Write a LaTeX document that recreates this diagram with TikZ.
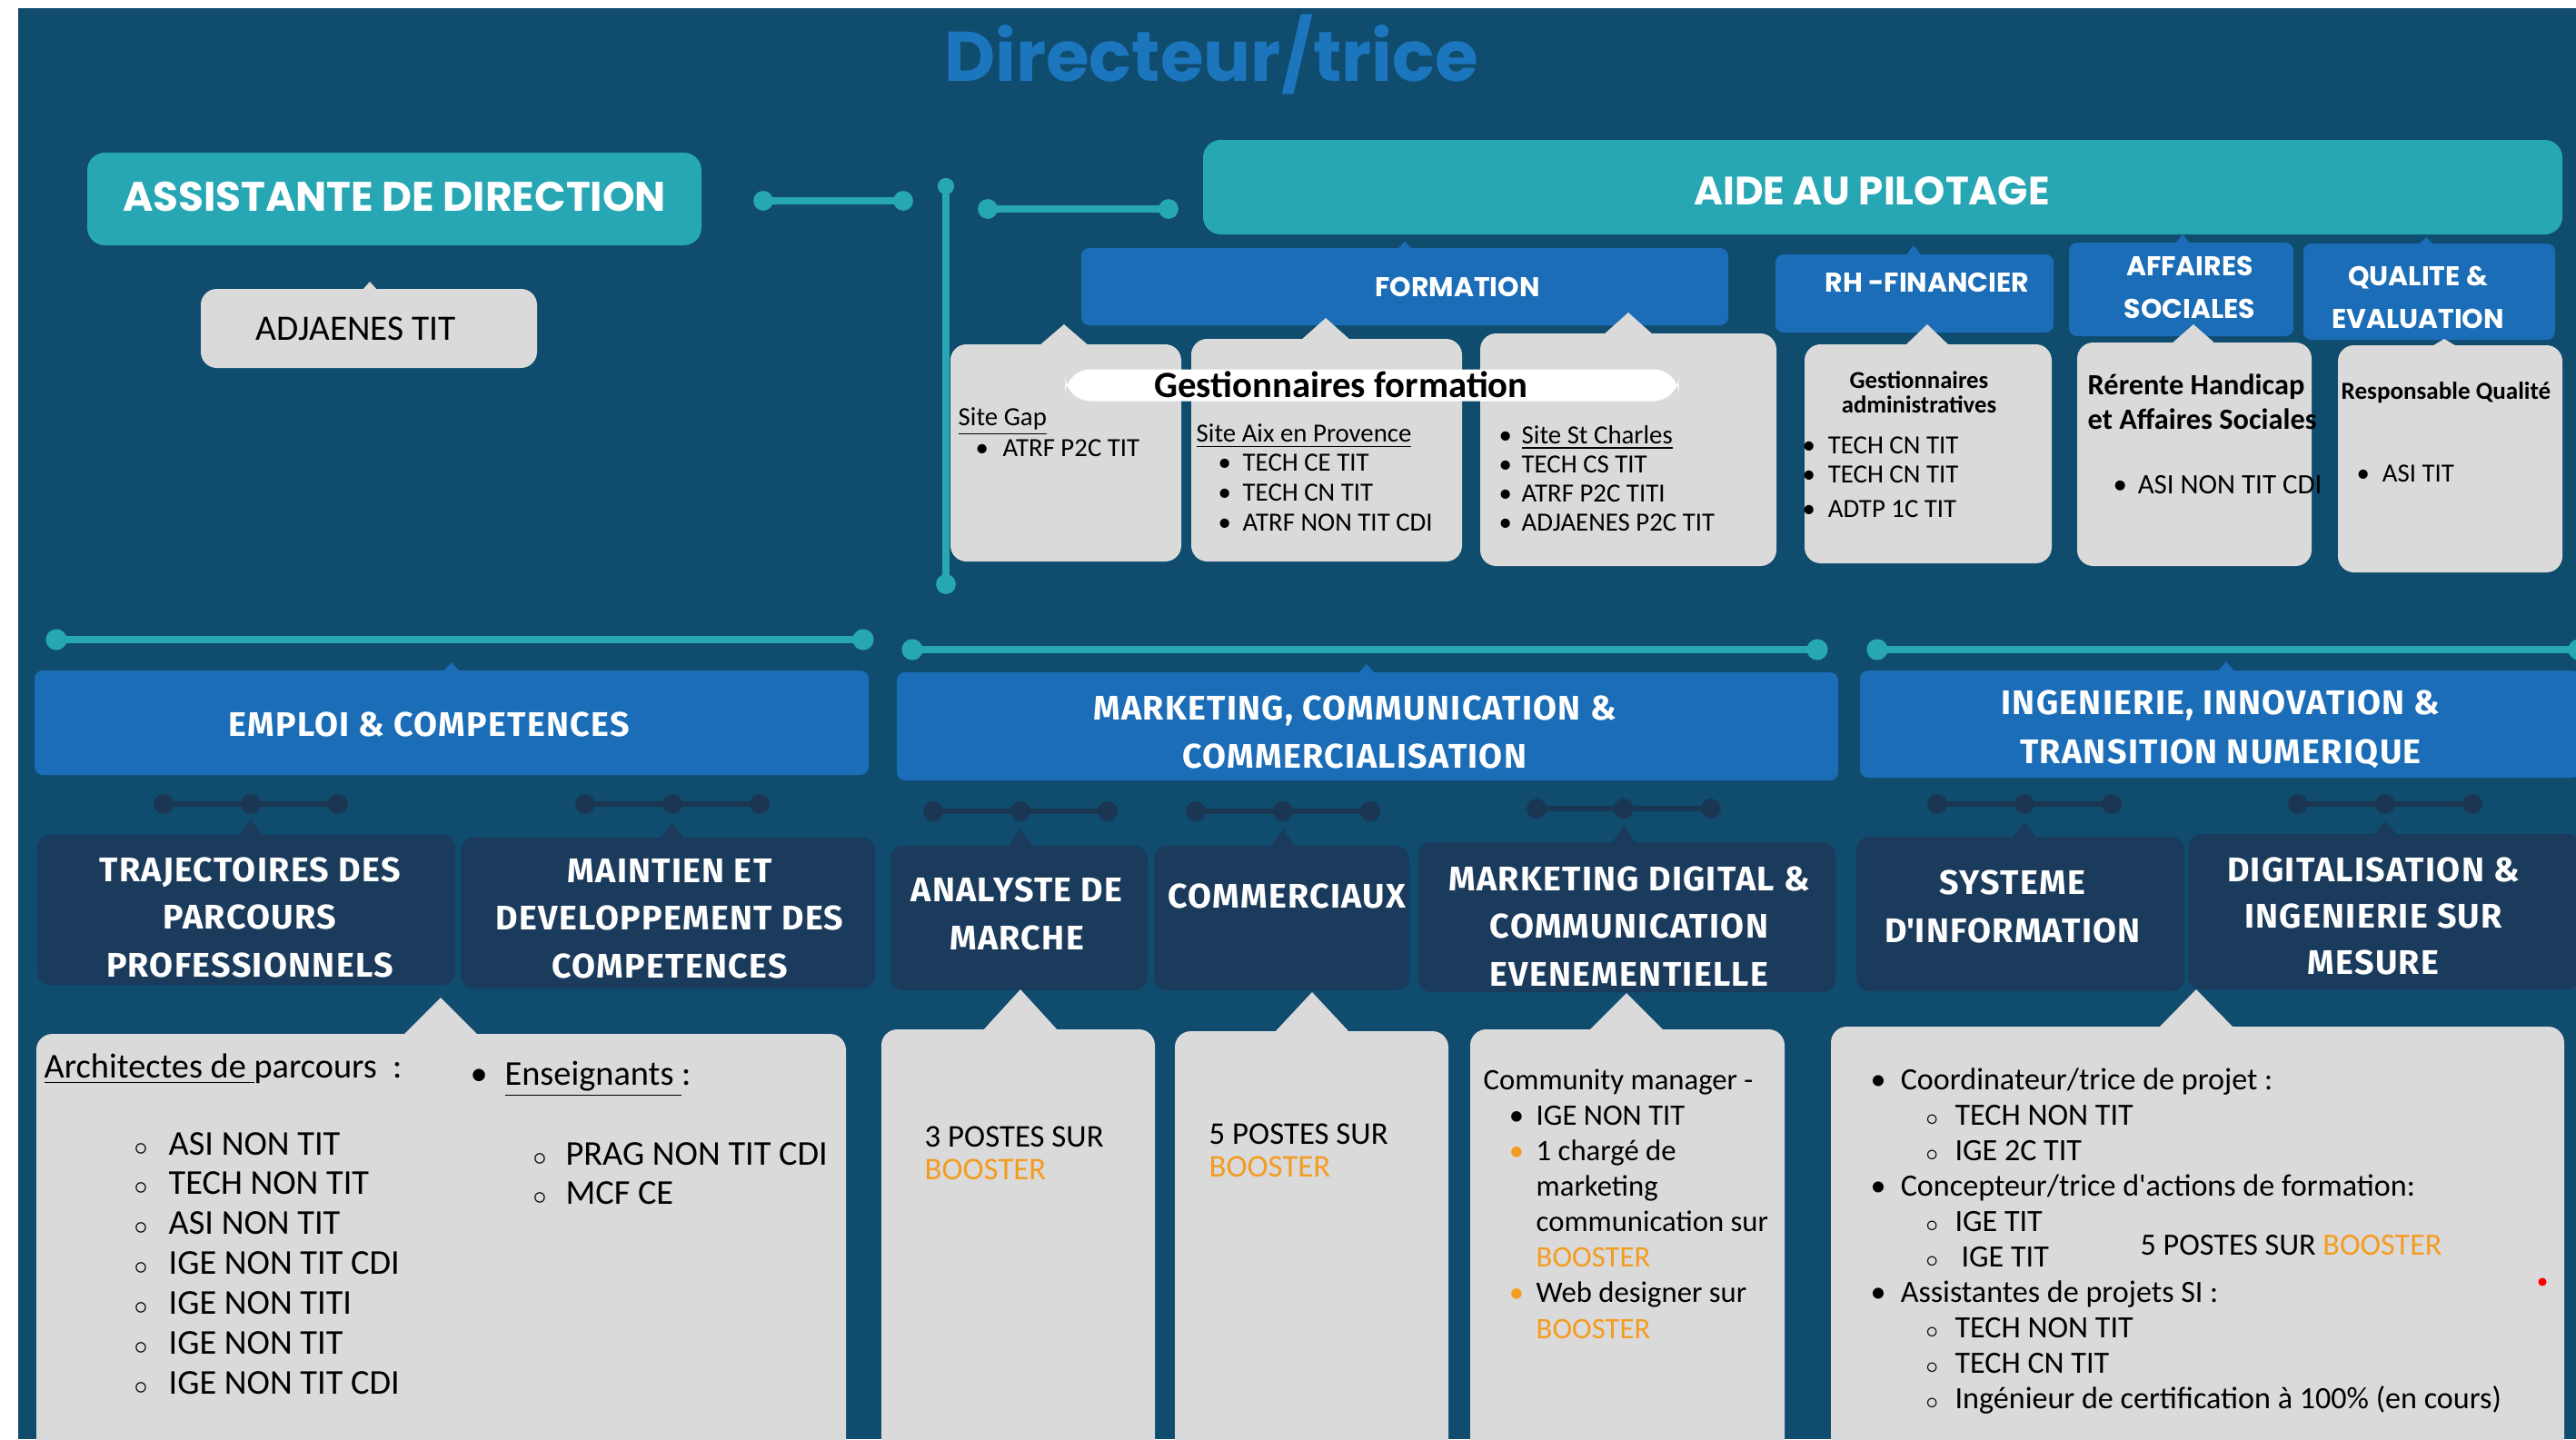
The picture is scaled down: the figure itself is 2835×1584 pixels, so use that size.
\documentclass[tikz,border=0pt]{standalone}
\usepackage{fontspec}
\setmainfont{Carlito}
\newfontfamily\titlefont{Poppins}
\newfontfamily\capsfont{Fira Sans}[LetterSpace=3.5]
\usepackage{tikz}
\usetikzlibrary{positioning}

\definecolor{fond}{HTML}{0F4C6E}
\definecolor{turquoise}{HTML}{27A6B4}
\definecolor{bleu}{HTML}{1A6DB6}
\definecolor{marine}{HTML}{1B3B5C}
\definecolor{joint}{HTML}{1B3652}
\definecolor{gris}{HTML}{DADADA}
\definecolor{titre}{HTML}{1C76BD}
\definecolor{boost}{HTML}{F39C21}

\newcommand{\taille}[2]{\fontsize{#1}{#2}\selectfont}
\newcommand{\puce}[1]{\makebox[#1][l]{\textbullet}}
\newcommand{\opuce}[1]{\makebox[#1][l]{\textcolor{boost}{\textbullet}}}
\newcommand{\rond}[1]{\makebox[#1][l]{$\scriptstyle\circ$}}
% boite : nom, style, x1, y1, x2, y2
\newcommand{\panel}[6]{%
  \node[#2, inner sep=0pt, minimum width={(#5-#3)*0.01cm}, minimum height={(#6-#4)*0.01cm}] (#1) at ({(#3+#5)/2},{(#4+#6)/2}) {};}
% pointe : couleur, x, y sommet, y base, demi-largeur
\newcommand{\pointe}[5]{\fill[#1] (#2-#5,#4) -- (#2,#3) -- (#2+#5,#4) -- cycle;}
% jalon a trois points
\newcommand{\jalon}[2]{%
  \draw[jalon] (#1-96,#2) -- (#1+96,#2);
  \foreach \dx in {-96,0,96} \fill[joint] (#1+\dx,#2) circle (3.1pt);}

\tikzset{
  turq/.style={fill=turquoise, rounded corners=5.5pt},
  bleuf/.style={fill=bleu, rounded corners=2.5pt},
  sombre/.style={fill=marine, rounded corners=4pt},
  carte/.style={fill=gris, rounded corners=5pt},
  entete/.style={text=white, inner sep=0pt, align=center, anchor=base},
  corps/.style={inner sep=0pt, align=left, anchor=base west},
  tige/.style={draw=turquoise, line width=2pt},
  jalon/.style={draw=joint, line width=1.7pt},
}

\begin{document}
\begin{tikzpicture}[x=0.01cm, y=-0.01cm]
  \useasboundingbox (0,0) rectangle (2835,1584);
  \clip (0,0) rectangle (2835,1584);
  % fond
  \fill[white] (0,0) rectangle (2835,1584);
  \fill[fond] (20,9) rectangle (2835,1584);

  % titre (les noeuds a plusieurs lignes sont places sur leur derniere ligne)
  \node[anchor=base, inner sep=0pt, text=titre, font=\titlefont\bfseries\taille{22}{28}] (directeur) at (1333,89) {Directeur/trice};

  % assistante de direction
  \panel{assistante}{turq}{96}{168}{772}{270}
  \node[entete, font=\titlefont\bfseries\taille{12.9}{15}] (tassistante) at (434,232) {ASSISTANTE DE DIRECTION};
  \panel{adjaenes}{carte}{221}{318}{591}{405}
  \pointe{gris}{407}{310}{319}{8}
  \node[anchor=base, inner sep=0pt, font=\taille{11.2}{13}] (tadjaenes) at (392,374) {ADJAENES TIT};

  % traits turquoise du haut
  \coordinate (l1a) at (840,221);
  \coordinate (l1b) at (994,221);
  \draw[tige] (l1a) -- (l1b);
  \fill[turquoise] (l1a) circle (3.1pt) (l1b) circle (3.1pt);
  \coordinate (vhaut) at (1041,205);
  \coordinate (vbas) at (1041,643);
  \draw[tige] (vhaut) -- (vbas);
  \fill[turquoise] (vhaut) circle (2.6pt) (vbas) circle (3.1pt);
  \coordinate (l2a) at (1087,230);
  \coordinate (l2b) at (1286,230);
  \draw[tige] (l2a) -- (l2b);
  \fill[turquoise] (l2a) circle (3.1pt) (l2b) circle (3.1pt);

  % aide au pilotage
  \panel{pilotage}{turq}{1324}{154}{2820}{258}
  \node[entete, font=\titlefont\bfseries\taille{12.4}{15}] (tpilotage) at (2060,225) {AIDE AU PILOTAGE};

  \panel{formation}{bleuf}{1190}{273}{1902}{358}
  \pointe{bleu}{1546}{266}{275}{9}
  \node[entete, font=\titlefont\bfseries\taille{8.5}{13.4}] (tformation) at (1604,326) {FORMATION};
  \panel{rh}{bleuf}{1954}{280}{2260}{366}
  \pointe{bleu}{2106}{270}{282}{9}
  \node[entete, font=\titlefont\bfseries\taille{8.5}{13.4}] (trh) at (2121,321) {RH -FINANCIER};
  \panel{affaires}{bleuf}{2277}{267}{2524}{370}
  \pointe{bleu}{2402}{258}{269}{9}
  \node[entete, font=\titlefont\bfseries\taille{8.5}{13.2}] (taffaires) at (2410,350) {AFFAIRES\\SOCIALES};
  \panel{qualite}{bleuf}{2535}{268}{2812}{374}
  \pointe{bleu}{2670}{261}{270}{9}
  \node[entete, font=\titlefont\bfseries\taille{8.5}{13.2}] (tqualite) at (2661,361) {QUALITE \&\\EVALUATION};

  % cartes de la formation
  \panel{gap}{carte}{1046}{379}{1300}{618}
  \pointe{gris}{1171}{357}{381}{28}
  \panel{aix}{carte}{1311}{373}{1609}{618}
  \pointe{gris}{1459}{350}{375}{28}
  \panel{charles}{carte}{1629}{367}{1955}{623}
  \pointe{gris}{1792}{344}{369}{28}
  \node[fill=white, rounded corners=8pt, inner sep=0pt, minimum width=6.75cm, minimum height=0.35cm] (pastille) at (1510,424) {};
  \node[anchor=base, inner sep=0pt, font=\bfseries\taille{11.6}{14}] (tgestion) at (1476,437) {Gestionnaires formation};
  \node[corps, font=\taille{8.2}{8.6}] (tgap) at (1054,502) {\underline{Site Gap}\\\hspace*{5.4pt}\puce{8.5pt}ATRF P2C TIT};
  \node[corps, font=\taille{8.2}{9.25}] (taix) at (1316,584) {\underline{Site Aix en Provence}\\\hspace*{6.8pt}\puce{7.7pt}TECH CE TIT\\\hspace*{6.8pt}\puce{7.7pt}TECH CN TIT\\\hspace*{6.8pt}\puce{7.7pt}ATRF NON TIT CDI};
  \node[corps, font=\taille{8.2}{9.1}] (tcharles) at (1649,584) {\puce{7.1pt}\underline{Site St Charles}\\\puce{7.1pt}TECH CS TIT\\\puce{7.1pt}ATRF P2C TITI\\\puce{7.1pt}ADJAENES P2C TIT};

  % cartes rh, affaires sociales, qualite
  \panel{gestrh}{carte}{1986}{379}{2258}{620}
  \pointe{gris}{2121}{357}{381}{25}
  \node[entete, text=black, font=\bfseries\taille{7.6}{7.4}] (tgestrh) at (2112,454) {Gestionnaires\\ administratives};
  \node[corps, font=\taille{8.2}{9.1}] (tlisterh) at (1983,569) {\puce{8pt}TECH CN TIT\\\puce{8pt}TECH CN TIT\\[1.5pt]\puce{8pt}ADTP 1C TIT};
  \panel{handicap}{carte}{2286}{377}{2544}{623}
  \pointe{gris}{2414}{357}{379}{25}
  \node[corps, font=\bfseries\taille{9.2}{10.8}] (thandicap) at (2297,472) {Rérente Handicap\\et Affaires Sociales};
  \node[corps, font=\taille{8.8}{10}] (tasi) at (2325,543) {\puce{7.7pt}ASI NON TIT CDI};
  \panel{qualgris}{carte}{2573}{380}{2820}{630}
  \pointe{gris}{2690}{373}{382}{15}
  \node[corps, font=\bfseries\taille{7.7}{9}] (tresp) at (2576,439) {Responsable Qualité};
  \node[corps, font=\taille{8.2}{9}] (tasitit) at (2593,530) {\puce{8pt}ASI TIT};

  % traits turquoise du milieu
  \coordinate (m1a) at (62,704);
  \coordinate (m1b) at (950,704);
  \coordinate (m2a) at (1004,715);
  \coordinate (m2b) at (2000,715);
  \coordinate (m3a) at (2066,715);
  \coordinate (m3b) at (2838,715);
  \draw[tige] (m1a) -- (m1b) (m2a) -- (m2b) (m3a) -- (m3b);
  \foreach \p in {m1a,m1b,m2a,m2b,m3a,m3b} \fill[turquoise] (\p) circle (3.3pt);

  % poles
  \panel{emploi}{bleuf}{38}{738}{956}{853}
  \pointe{bleu}{497}{729}{740}{10}
  \node[entete, font=\capsfont\bfseries\taille{10.7}{15}] (temploi) at (472,810) {EMPLOI \& COMPETENCES};
  \panel{marketing}{bleuf}{987}{740}{2023}{859}
  \pointe{bleu}{1504}{731}{742}{10}
  \node[entete, font=\capsfont\bfseries\taille{10.7}{15}] (tmarketing) at (1491,845) {MARKETING, COMMUNICATION \&\\COMMERCIALISATION};
  \panel{ingenierie}{bleuf}{2047}{738}{2840}{856}
  \pointe{bleu}{2450}{728}{740}{10}
  \node[entete, font=\capsfont\bfseries\taille{10.7}{15.2}] (tingenierie) at (2444,840) {INGENIERIE, INNOVATION \&\\TRANSITION NUMERIQUE};

  % jalons
  \jalon{276}{885}
  \jalon{740}{885}
  \jalon{1123}{893}
  \jalon{1412}{893}
  \jalon{1787}{890}
  \jalon{2228}{885}
  \jalon{2625}{885}

  % services
  \panel{traj}{sombre}{41}{919}{501}{1084}
  \pointe{marine}{276}{902}{921}{14}
  \node[entete, font=\capsfont\bfseries\taille{10.7}{14.8}] (ttraj) at (275,1075) {TRAJECTOIRES DES\\PARCOURS\\PROFESSIONNELS};
  \panel{maintien}{sombre}{507}{922}{963}{1088}
  \pointe{marine}{740}{906}{924}{14}
  \node[entete, font=\capsfont\bfseries\taille{10.7}{14.8}] (tmaintien) at (737,1076) {MAINTIEN ET\\DEVELOPPEMENT DES\\COMPETENCES};
  \panel{analyste}{sombre}{980}{931}{1263}{1090}
  \pointe{marine}{1123}{912}{933}{14}
  \node[entete, font=\capsfont\bfseries\taille{10.7}{14.8}] (tanalyste) at (1119,1045) {ANALYSTE DE\\MARCHE};
  \panel{commerciaux}{sombre}{1270}{931}{1551}{1090}
  \pointe{marine}{1412}{912}{933}{14}
  \node[entete, font=\capsfont\bfseries\taille{10.7}{14.8}] (tcommerciaux) at (1416,999) {COMMERCIAUX};
  \panel{mktdig}{sombre}{1561}{927}{2020}{1092}
  \pointe{marine}{1787}{908}{929}{14}
  \node[entete, font=\capsfont\bfseries\taille{10.7}{14.8}] (tmktdig) at (1793,1085) {MARKETING DIGITAL \&\\COMMUNICATION\\EVENEMENTIELLE};
  \panel{systeme}{sombre}{2043}{921}{2404}{1091}
  \pointe{marine}{2228}{905}{923}{14}
  \node[entete, font=\capsfont\bfseries\taille{10.7}{14.8}] (tsysteme) at (2215,1037) {SYSTEME\\D\textquotesingle INFORMATION};
  \panel{digital}{sombre}{2408}{918}{2840}{1089}
  \pointe{marine}{2625}{904}{920}{14}
  \node[entete, font=\capsfont\bfseries\taille{10.7}{14.4}] (tdigital) at (2612,1072) {DIGITALISATION \&\\INGENIERIE SUR\\MESURE};

  % cartes du bas
  \panel{cemploi}{carte}{40}{1138}{931}{1640}
  \pointe{gris}{485}{1098}{1140}{42}
  \node[corps, font=\taille{10.9}{12.5}] (tarchi) at (48,1186) {\underline{Architectes de }parcours~ :};
  \node[corps, font=\taille{10.9}{12.46}] (tlistarchi) at (147,1534) {\rond{10.8pt}ASI NON TIT\\\rond{10.8pt}TECH NON TIT\\\rond{10.8pt}ASI NON TIT\\\rond{10.8pt}IGE NON TIT CDI\\\rond{10.8pt}IGE NON TITI\\\rond{10.8pt}IGE NON TIT\\\rond{10.8pt}IGE NON TIT CDI};
  \node[corps, font=\taille{10.9}{12.5}] (tens) at (517,1194) {\puce{10.8pt}\underline{Enseignants }:};
  \node[corps, font=\taille{10.9}{12}] (tlistens) at (586,1325) {\rond{10.2pt}PRAG NON TIT CDI\\\rond{10.2pt}MCF CE};

  \panel{canalyste}{carte}{970}{1133}{1271}{1640}
  \pointe{gris}{1123}{1089}{1135}{42}
  \node[corps, font=\taille{9.9}{10.2}] (tposte3) at (1017,1298) {3 POSTES SUR\\\textcolor{boost}{BOOSTER}};
  \panel{ccomm}{carte}{1293}{1135}{1594}{1640}
  \pointe{gris}{1444}{1092}{1137}{42}
  \node[corps, font=\taille{9.9}{10.2}] (tposte5) at (1330,1295) {5 POSTES SUR\\\textcolor{boost}{BOOSTER}};

  \panel{cmkt}{carte}{1618}{1133}{1964}{1640}
  \pointe{gris}{1790}{1093}{1135}{42}
  \node[corps, font=\taille{9.3}{11.1}] (tcommunity) at (1632,1473) {Community manager -\\
    \hspace*{8pt}\puce{8.5pt}IGE NON TIT\\
    \hspace*{8pt}\opuce{8.5pt}1 chargé de\\
    \hspace*{16.5pt}marketing\\
    \hspace*{16.5pt}communication sur\\
    \hspace*{16.5pt}\textcolor{boost}{BOOSTER}\\
    \hspace*{8pt}\opuce{8.5pt}Web designer sur\\
    \hspace*{16.5pt}\textcolor{boost}{BOOSTER}};

  \panel{cinge}{carte}{2015}{1130}{2822}{1640}
  \pointe{gris}{2417}{1089}{1132}{42}
  \node[corps, font=\taille{9.7}{11.07}] (tprojets) at (2058,1550) {\puce{9.4pt}Coordinateur/trice de projet :\\
    \hspace*{17.2pt}\rond{9.2pt}TECH NON TIT\\
    \hspace*{17.2pt}\rond{9.2pt}IGE 2C TIT\\
    \puce{9.4pt}Concepteur/trice d\textquotesingle actions de formation:\\
    \hspace*{17.2pt}\rond{9.2pt}IGE TIT\\
    \hspace*{17.2pt}\rond{9.2pt}\hspace*{2pt}IGE TIT\\
    \puce{9.4pt}Assistantes de projets SI :\\
    \hspace*{17.2pt}\rond{9.2pt}TECH NON TIT\\
    \hspace*{17.2pt}\rond{9.2pt}TECH CN TIT\\
    \hspace*{17.2pt}\rond{9.2pt}Ingénieur de certification à 100\% (en cours)};
  \node[corps, font=\taille{9.7}{11}] (tbooster) at (2355,1381) {5 POSTES SUR \textcolor{boost}{BOOSTER}};
  \fill[red] (2798,1411) circle (1.3pt);
\end{tikzpicture}
\end{document}
